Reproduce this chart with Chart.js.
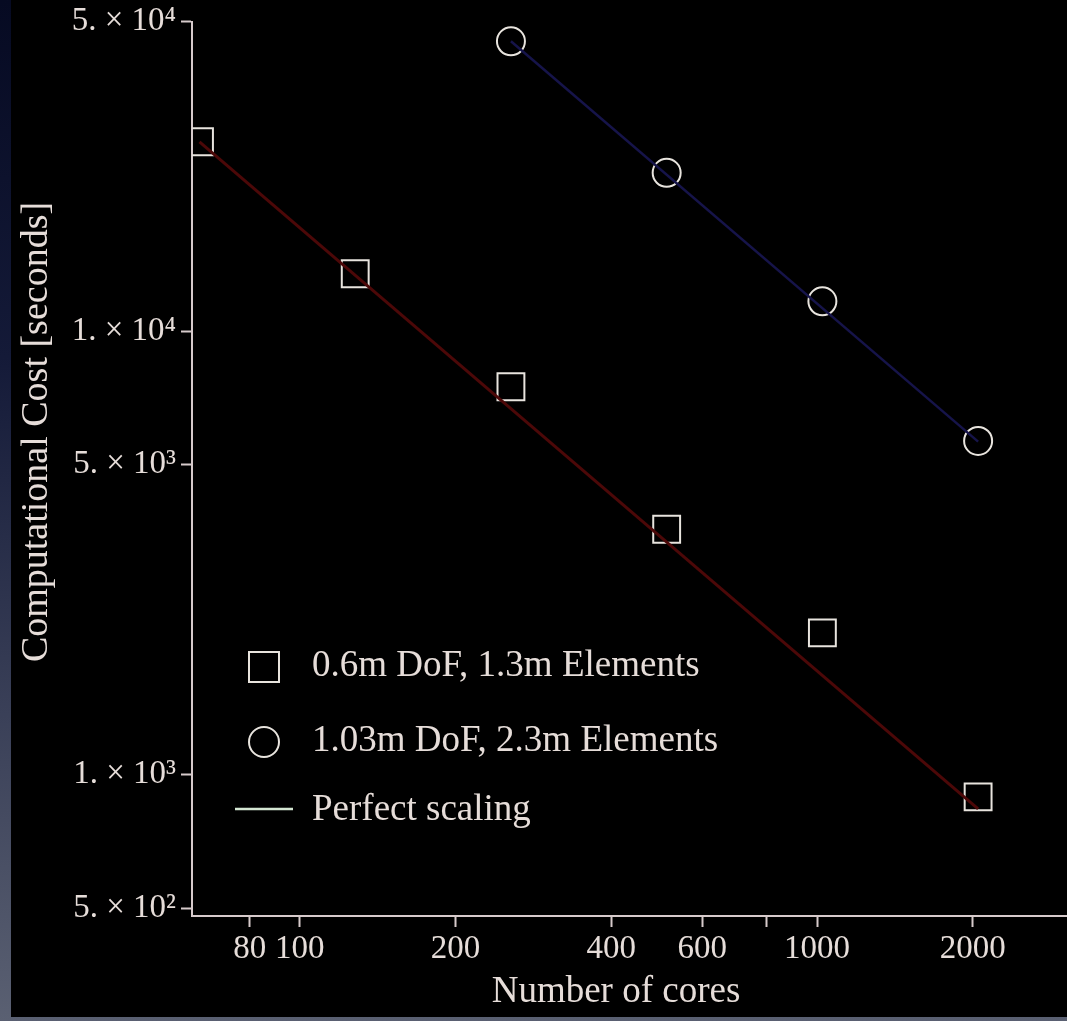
<!DOCTYPE html>
<html><head><meta charset="utf-8">
<script src="https://cdn.jsdelivr.net/npm/chart.js@4.4.1/dist/chart.umd.min.js"></script>
<style>
html,body{margin:0;padding:0;width:1067px;height:1021px;overflow:hidden;
background:linear-gradient(to bottom,#060a22 0%,#141a38 35%,#3a4058 70%,#5a6072 100%);}
#wrap{position:absolute;left:11px;top:0;width:1056px;height:1017px;background:#000;}
canvas{display:block}
</style></head><body>
<div id="wrap"><canvas id="c" width="1056" height="1017"></canvas></div>
<script>
// ---- data ----
const cores = [64, 128, 256, 512, 1024, 2048];
const costSmall = [26770, 13490, 7500, 3577, 2089, 891];
const coresLarge = [256, 512, 1024, 2048];
const costLarge = [45110, 22790, 11690, 5660];
const perfectSmallX = [64, 2048];
const perfectSmallY = [26770, 837];
const perfectLargeX = [256, 2048];
const perfectLargeY = [45110, 5640];
const xTickValues = [80, 100, 200, 400, 600, 800, 1000, 2000];
const xTickLabels = ['80', '100', '200', '400', '600', '', '1000', '2000'];
const yTickValues = [500, 1000, 5000, 10000, 50000];
const yTickLabels = ['5. \u00d7 10\u00b2', '1. \u00d7 10\u00b3', '5. \u00d7 10\u00b3', '1. \u00d7 10\u2074', '5. \u00d7 10\u2074'];
const seriesLabels = ['0.6m DoF, 1.3m Elements', '1.03m DoF, 2.3m Elements', 'Perfect scaling'];
const xTitle = 'Number of cores';
const yTitle = 'Computational Cost [seconds]';

const FONT = "'Liberation Serif','Times New Roman',serif";
const TEXT = '#e6ddd9';
const AXIS = '#d6cacb';
const MARK = '#e8e4de';

const pts = (xs, ys) => xs.map((x, i) => ({x: x, y: ys[i]}));

const legendPlugin = {
  id: 'customLegend',
  afterDraw(chart) {
    const ctx = chart.ctx;
    ctx.save();
    ctx.strokeStyle = MARK;
    ctx.lineWidth = 2;
    ctx.strokeRect(253 - 15, 667 - 15, 30, 30);
    ctx.beginPath();
    ctx.arc(253, 742, 15, 0, Math.PI * 2);
    ctx.stroke();
    ctx.strokeStyle = '#d4e6d2';
    ctx.lineWidth = 2.5;
    ctx.beginPath();
    ctx.moveTo(224, 809); ctx.lineTo(282, 809);
    ctx.stroke();
    ctx.fillStyle = TEXT;
    ctx.font = '37px ' + FONT;
    ctx.textAlign = 'left';
    ctx.textBaseline = 'middle';
    ctx.fillText(seriesLabels[0], 301, 666);
    ctx.fillText(seriesLabels[1], 301, 741);
    ctx.fillText(seriesLabels[2], 301, 810);
    // axis titles
    ctx.textAlign = 'center';
    ctx.fillText(xTitle, 605, 992);
    ctx.font = '38px ' + FONT;
    ctx.translate(26, 432);
    ctx.rotate(-Math.PI / 2);
    ctx.fillText(yTitle, 0, 0);
    ctx.restore();
  }
};

const tickFont = {family: FONT, size: 33};

const chart = new Chart(document.getElementById('c'), {
  type: 'scatter',
  data: {
    datasets: [
      {label: seriesLabels[2], data: pts(perfectSmallX, perfectSmallY), showLine: true,
       borderColor: '#4c0808', borderWidth: 3, pointRadius: 0, order: 0},
      {label: seriesLabels[2], data: pts(perfectLargeX, perfectLargeY), showLine: true,
       borderColor: '#16144a', borderWidth: 2.5, pointRadius: 0, order: 0},
      {label: seriesLabels[0], data: pts(cores, costSmall), showLine: false,
       pointStyle: 'rect', pointRadius: 19, pointBorderWidth: 2,
       pointBorderColor: MARK, pointBackgroundColor: 'rgba(0,0,0,0)', order: 1},
      {label: seriesLabels[1], data: pts(coresLarge, costLarge), showLine: false,
       pointStyle: 'circle', pointRadius: 14, pointBorderWidth: 2,
       pointBorderColor: MARK, pointBackgroundColor: 'rgba(0,0,0,0)', order: 1}
    ]
  },
  options: {
    responsive: false, animation: false, devicePixelRatio: 1,
    layout: {padding: {top: 21.5, left: 0, right: 0, bottom: 0}, autoPadding: false},
    plugins: {legend: {display: false}, tooltip: {enabled: false}},
    scales: {
      x: {
        type: 'logarithmic', min: 61.9, max: 3042, bounds: 'data',
        afterBuildTicks: s => { s.ticks = xTickValues.map(v => ({value: v})); },
        afterFit: s => { s.height = 101; s.paddingLeft = 0; s.paddingRight = 0; },
        ticks: {callback: v => xTickLabels[xTickValues.indexOf(v)], autoSkip: false,
                maxRotation: 0, minRotation: 0, font: tickFont, color: TEXT, padding: 3},
        grid: {display: true, drawOnChartArea: false, drawTicks: true, tickLength: 11,
               tickColor: AXIS, tickWidth: 2},
        border: {display: true, color: AXIS, width: 2}
      },
      y: {
        type: 'logarithmic', min: 480, max: 50000, bounds: 'data',
        afterBuildTicks: s => { s.ticks = yTickValues.map(v => ({value: v})); },
        afterFit: s => { s.width = 181; s.paddingTop = 0; s.paddingBottom = 0; },
        ticks: {callback: v => yTickLabels[yTickValues.indexOf(v)], autoSkip: false,
                font: tickFont, color: TEXT, padding: 5},
        grid: {display: true, drawOnChartArea: false, drawTicks: true, tickLength: 11,
               tickColor: AXIS, tickWidth: 2},
        border: {display: true, color: AXIS, width: 2}
      }
    }
  },
  plugins: [legendPlugin]
});
</script>
</body></html>
